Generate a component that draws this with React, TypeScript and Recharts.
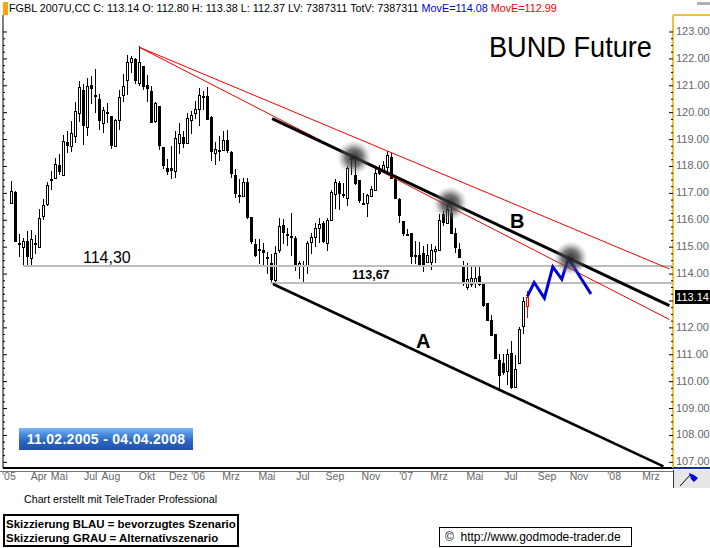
import { ComposedChart, Bar, Line, XAxis, YAxis, ReferenceDot } from 'recharts';

// weekly candles
const opens = [
  116.64, 117.05, 115.17, 115.02, 115.22, 114.58, 115.15, 115.02, 116.16, 116.60,
  117.54, 117.56, 118.07, 117.70, 118.91, 118.75, 119.12, 119.98, 120.85, 119.46,
  121.04, 120.67, 120.52, 119.62, 120.03, 119.88, 118.75, 119.74, 120.64, 121.23,
  121.90, 122.00, 121.10, 121.73, 121.04, 120.81, 119.68, 120.26, 118.74, 117.96,
  117.93, 117.83, 118.89, 119.11, 118.86, 119.72, 119.99, 120.12, 120.63, 120.63,
  119.85, 118.49, 118.60, 118.60, 119.00, 118.53, 117.70, 116.93, 116.90, 117.43,
  116.11, 115.10, 114.93, 114.91, 114.63, 114.40, 113.79, 114.90, 115.81, 115.49,
  115.43, 115.33, 114.33, 114.33, 114.33, 115.20, 115.36, 115.72, 115.89, 115.17,
  116.01, 116.99, 117.37, 116.97, 116.84, 118.28, 117.70, 117.49, 116.64, 116.65,
  116.90, 117.12, 117.86, 117.83, 117.98, 118.36, 117.54, 116.80, 115.96, 115.49,
  115.51, 114.72, 114.70, 114.78, 114.46, 114.46, 114.86, 114.90, 116.22, 115.89,
  116.26, 115.54, 114.95, 114.28, 113.51, 113.63, 113.67, 113.94, 113.62, 112.92,
  112.29, 111.78, 110.80, 110.71, 110.39, 111.06, 109.81, 110.71, 112.06, 112.80,
];
const closes = [
  117.10, 115.23, 115.10, 115.23, 114.68, 115.32, 115.17, 116.10, 116.58, 117.33,
  117.49, 118.10, 117.83, 118.95, 118.81, 119.25, 120.06, 120.95, 119.56, 121.00,
  120.90, 120.65, 119.72, 120.09, 120.01, 118.81, 119.74, 120.59, 121.00, 121.89,
  122.02, 121.22, 121.89, 121.00, 120.90, 119.64, 120.36, 118.79, 118.05, 117.83,
  117.88, 119.07, 119.21, 118.86, 119.81, 119.90, 120.15, 120.65, 120.59, 119.75,
  118.57, 118.65, 118.59, 119.00, 118.60, 117.77, 117.01, 116.92, 117.43, 116.12,
  115.23, 114.70, 114.92, 114.83, 114.60, 113.81, 114.80, 115.80, 115.57, 115.48,
  115.42, 114.33, 114.41, 114.32, 115.14, 115.36, 115.73, 115.85, 115.23, 116.01,
  117.05, 117.43, 117.02, 116.96, 117.93, 118.41, 117.37, 116.75, 116.65, 116.93,
  117.15, 117.74, 117.77, 118.04, 118.44, 117.58, 116.81, 116.21, 115.52, 115.48,
  114.68, 114.70, 114.37, 114.37, 114.72, 114.90, 114.93, 116.00, 115.94, 116.41,
  115.52, 114.99, 114.65, 113.69, 113.81, 113.85, 113.85, 113.63, 112.85, 112.31,
  111.72, 110.88, 110.24, 110.36, 111.04, 109.81, 110.46, 111.97, 113.01, 113.14,
];
const highs = [
  117.46, 117.07, 115.48, 115.33, 115.60, 115.64, 115.44, 116.43, 116.78, 117.42,
  117.84, 118.33, 118.48, 119.16, 119.33, 119.68, 120.38, 121.19, 121.05, 121.30,
  121.35, 121.63, 120.70, 120.21, 120.36, 119.88, 119.78, 120.83, 121.44, 122.15,
  122.11, 122.03, 122.48, 121.74, 121.41, 121.00, 120.38, 120.26, 118.74, 118.28,
  118.75, 119.31, 119.62, 119.31, 119.99, 120.07, 120.42, 120.91, 120.79, 120.95,
  119.86, 118.90, 119.12, 119.31, 119.35, 118.57, 117.91, 117.54, 117.56, 117.58,
  116.11, 115.32, 115.30, 115.15, 114.83, 114.74, 115.05, 116.10, 116.04, 115.73,
  116.26, 115.42, 114.50, 114.50, 115.23, 115.54, 115.91, 116.10, 115.98, 116.10,
  117.11, 117.52, 117.46, 117.40, 118.01, 118.48, 118.32, 117.50, 117.02, 116.96,
  117.27, 117.89, 118.07, 118.20, 118.57, 118.51, 117.58, 116.83, 115.98, 115.67,
  115.54, 115.23, 115.20, 115.05, 115.11, 115.11, 115.05, 116.22, 116.35, 116.53,
  116.41, 115.73, 115.17, 114.49, 114.43, 114.31, 114.25, 114.31, 113.62, 112.92,
  112.46, 111.78, 111.04, 111.04, 111.20, 111.53, 110.98, 112.03, 113.13, 113.38,
];
const lows = [
  116.60, 115.22, 114.63, 114.31, 114.33, 114.33, 114.73, 115.02, 116.01, 116.53,
  117.12, 117.52, 117.67, 117.70, 118.51, 118.53, 118.88, 119.65, 118.81, 119.15,
  120.33, 119.99, 119.37, 119.25, 119.62, 118.65, 118.72, 119.37, 120.40, 120.67,
  121.49, 121.07, 121.00, 120.83, 120.38, 119.62, 119.62, 118.63, 117.89, 117.70,
  117.52, 117.58, 118.46, 118.69, 118.83, 119.22, 119.78, 119.52, 120.11, 119.72,
  118.20, 118.07, 118.20, 118.57, 118.51, 117.58, 116.83, 116.63, 116.85, 116.04,
  115.11, 114.62, 114.37, 114.25, 114.00, 113.63, 113.72, 114.80, 115.11, 115.05,
  114.68, 114.12, 113.81, 113.67, 114.00, 114.74, 114.99, 115.17, 115.17, 114.86,
  115.98, 116.41, 116.37, 116.84, 116.53, 117.67, 117.33, 116.63, 116.59, 116.12,
  116.86, 117.09, 117.70, 117.77, 117.70, 117.52, 116.78, 115.91, 115.42, 115.42,
  114.37, 114.37, 114.31, 114.09, 114.43, 114.16, 114.43, 114.90, 115.79, 115.85,
  115.52, 114.80, 114.62, 113.57, 113.42, 113.51, 113.47, 113.57, 112.77, 112.27,
  111.69, 110.85, 109.70, 110.24, 109.87, 109.74, 109.77, 110.67, 111.78, 112.37,
];

// hand drawn lines [week, price]
const redUpper = [[31.9, 122.44], [164.5, 114.19]];
const redLower = [[31.9, 122.44], [164.5, 112.31]];
const lineB = [[65.2, 119.78], [164.5, 112.83]];
const lineA = [[65.4, 113.63], [163, 106.85]];
const level114 = [[2.9, 114.3], [165.4, 114.3]];
const level113 = [[64.7, 113.67], [165.4, 113.67]];
const scenario = [
  [129, 113.17], [130.7, 113.69], [133.25, 113.11], [135.35, 114.27],
  [137.6, 113.81], [139.25, 114.58], [144.9, 113.26],
];
const touches = [[85.7, 118.33], [109.7, 116.63], [139.85, 114.59]];

const priceTicks = [107, 108, 109, 110, 111, 112, 113, 114, 115, 116, 117, 118, 119, 120, 121, 122, 123];
const monthLabels = ["'05", 'Apr', 'Mai', 'Jul', 'Aug', 'Okt', 'Dez', "'06", 'Mrz', 'Mai', 'Jul', 'Sep', 'Nov', "'07", 'Mrz', 'Mai', 'Jul', 'Sep', 'Nov', "'08", 'Mrz'];
const monthWeeks = [-0.6, 6.9, 12, 19.85, 24.9, 33.9, 41.75, 46.7, 54.9, 63.9, 72.9, 80.9, 89.9, 98.7, 106.9, 115.9, 124.9, 133.9, 141.9, 150.7, 159.9];

const candles = opens.map((open, i) => ({
  x: i,
  open,
  close: closes[i],
  high: highs[i],
  low: lows[i],
  range: [lows[i], highs[i]],
}));

const toPoints = (pts: number[][]) => pts.map(([x, price]) => ({ x, price }));
const allTicks = priceTicks.flatMap((t) => (t === 123 ? [t] : [t, t + 0.25, t + 0.5, t + 0.75]));

const SANS = '"Liberation Sans", Arial, sans-serif';
const PLOT_LEFT = 3;
const PLOT_RIGHT = 673;

function Candle(props: any) {
  const { x, y, width, height, payload } = props;
  const { open, close, high, low } = payload;
  const last = payload.x === opens.length - 1;
  const ink = last ? '#f00000' : '#000';
  const cx = Math.round(x + width / 2 - 0.5) + 0.5;
  const toY = (p: number) => y + ((high - p) / (high - low)) * height;
  const top = Math.round(toY(Math.max(open, close)));
  const bottom = Math.max(Math.round(toY(Math.min(open, close))), top + 1);
  const rising = close >= open;
  return (
    <g shapeRendering="crispEdges">
      <line x1={cx} x2={cx} y1={y} y2={y + height} stroke={ink} strokeWidth={1} />
      {rising ? (
        <rect x={cx - 1} y={top + 0.5} width={2} height={bottom - top} fill="#fff" stroke={ink} strokeWidth={1} />
      ) : (
        <rect x={cx - 1.5} y={top} width={3} height={bottom - top + 1} fill={ink} />
      )}
    </g>
  );
}

function RightTick(props: any) {
  const { y, payload } = props;
  const major = Number.isInteger(payload.value);
  return (
    <g>
      <line x1={PLOT_RIGHT - (major ? 4 : 2)} x2={PLOT_RIGHT} y1={y} y2={y} stroke="#000" strokeWidth={1} />
      {major && (
        <text x={PLOT_RIGHT + 3} y={y + 3} fontFamily={SANS} fontSize={11} fill="#666">
          {payload.value.toFixed(2)}
        </text>
      )}
    </g>
  );
}

function LeftTick(props: any) {
  const { y, payload } = props;
  const major = Number.isInteger(payload.value);
  return <line x1={PLOT_LEFT} x2={PLOT_LEFT + (major ? 4 : 2)} y1={y} y2={y} stroke="#000" strokeWidth={1} />;
}

function MonthTick(props: any) {
  const { x, payload } = props;
  return (
    <text x={x} y={480} textAnchor="middle" fontFamily={SANS} fontSize={10.5} fill="#666">
      {monthLabels[monthWeeks.indexOf(payload.value)]}
    </text>
  );
}

function Label(props: any) {
  const { x, y, style, children } = props;
  return (
    <div style={{ position: 'absolute', left: x, top: y, whiteSpace: 'nowrap', fontFamily: SANS, lineHeight: 1, ...style }}>
      {children}
    </div>
  );
}

const drawnLine = (key: string, pts: number[][], stroke: string, strokeWidth: number) => (
  <Line
    key={key}
    data={toPoints(pts)}
    dataKey="price"
    yAxisId="price"
    stroke={stroke}
    strokeWidth={strokeWidth}
    dot={false}
    activeDot={false}
    legendType="none"
    isAnimationActive={false}
  />
);

export default function App() {
  return (
    <div style={{ position: 'absolute', left: 0, top: 0, width: 710, height: 548, background: '#fff', overflow: 'hidden' }}>
      <ComposedChart width={710} height={548} data={candles} margin={{ top: 15, right: 0, bottom: 0, left: 0 }}>
        <defs>
          <radialGradient id="touchGlow">
            <stop offset="0%" stopColor="#222" stopOpacity={0.95} />
            <stop offset="50%" stopColor="#444" stopOpacity={0.72} />
            <stop offset="100%" stopColor="#999" stopOpacity={0} />
          </radialGradient>
        </defs>
        <XAxis
          dataKey="x"
          type="number"
          domain={[-2.075, 165.4]}
          allowDataOverflow
          ticks={monthWeeks}
          interval={0}
          height={80}
          tick={<MonthTick />}
          tickLine={false}
          axisLine={{ stroke: '#000', strokeWidth: 2 }}
        />
        <YAxis
          yAxisId="left"
          orientation="left"
          width={3}
          domain={[106.79, 123.632]}
          allowDataOverflow
          ticks={allTicks}
          interval={0}
          tick={<LeftTick />}
          tickLine={false}
          axisLine={{ stroke: '#000', strokeWidth: 1 }}
        />
        <YAxis
          yAxisId="price"
          orientation="right"
          width={37}
          domain={[106.79, 123.632]}
          allowDataOverflow
          ticks={allTicks}
          interval={0}
          tick={<RightTick />}
          tickLine={false}
          axisLine={{ stroke: '#f2c040', strokeWidth: 2 }}
        />
        <Bar dataKey="range" yAxisId="price" barSize={3} shape={<Candle />} isAnimationActive={false} />
        {drawnLine('level114', level114, '#bdbdbd', 2)}
        {drawnLine('level113', level113, '#bdbdbd', 2)}
        {drawnLine('redUpper', redUpper, '#f00000', 1)}
        {drawnLine('redLower', redLower, '#f00000', 1)}
        {touches.map(([x, y]) => (
          <ReferenceDot key={x} x={x} y={y} yAxisId="price" r={17} fill="url(#touchGlow)" stroke="none" />
        ))}
        {drawnLine('lineB', lineB, '#000', 3)}
        {drawnLine('lineA', lineA, '#000', 2.6)}
        {drawnLine('scenario', scenario, '#0000dd', 3)}
      </ComposedChart>

      <div style={{ position: 'absolute', left: 3, top: 2, width: 5, height: 13, background: '#ffa010' }} />
      <Label x={9} y={3} style={{ fontSize: 10.8, color: '#000' }}>
        FGBL 2007U,CC C: 113.14 O: 112.80 H: 113.38 L: 112.37 LV: 7387311 TotV: 7387311{' '}
        <span style={{ color: '#0000e0' }}>MovE=114.08</span> <span style={{ color: '#f00000' }}>MovE=112.99</span>
      </Label>
      <div style={{ position: 'absolute', left: 697, top: 2, width: 13, height: 3, background: '#b0b0b0' }} />
      <div style={{ position: 'absolute', left: 673, top: 14, width: 37, height: 2, background: '#f2c040' }} />
      <div style={{ position: 'absolute', left: 673, top: 467, width: 37, height: 2, background: '#1030a0' }} />
      <div style={{ position: 'absolute', left: 0, top: 471, width: 673, height: 1, background: '#777' }} />

      <Label x={489} y={32} style={{ fontSize: 30, color: '#000', transform: 'scaleX(0.905)', transformOrigin: 'left top' }}>BUND Future</Label>
      <Label x={83} y={250} style={{ fontSize: 16, color: '#000' }}>114,30</Label>
      <Label x={352} y={269} style={{ fontSize: 12.5, fontWeight: 700, color: '#000' }}>113,67</Label>
      <Label x={416} y={331} style={{ fontSize: 20, fontWeight: 700, color: '#000' }}>A</Label>
      <Label x={510} y={211} style={{ fontSize: 20, fontWeight: 700, color: '#000' }}>B</Label>

      <div style={{ position: 'absolute', left: 675, top: 290, width: 35, height: 14, background: '#000', color: '#fff', fontFamily: SANS, fontSize: 11, lineHeight: '14px', textAlign: 'center' }}>
        113.14
      </div>

      <div style={{ position: 'absolute', left: 673, top: 470, width: 37, height: 18, background: '#e6e6e6', borderLeft: '1px solid #333', boxSizing: 'border-box' }}>
        <svg width={36} height={18}>
          <line x1={6} y1={16} x2={17} y2={4} stroke="#000" strokeWidth={1} />
          <polygon points="15,3 20,5 24,8 20,12 17,9" fill="#0000dd" />
        </svg>
      </div>

      <div style={{ position: 'absolute', left: 19, top: 428, width: 174, height: 22, background: 'linear-gradient(#7db8f2 0%, #4a8ae0 30%, #2a66c4 60%, #2450a8 100%)', color: '#fff', fontFamily: SANS, fontSize: 14, fontWeight: 700, lineHeight: '23px', textAlign: 'center', letterSpacing: 0.3 }}>
        11.02.2005 - 04.04.2008
      </div>

      <Label x={24} y={494} style={{ fontSize: 10.7, color: '#000' }}>Chart erstellt mit TeleTrader Professional</Label>

      <div style={{ position: 'absolute', left: 3, top: 514, width: 236, height: 33, border: '2px solid #000', boxSizing: 'border-box', fontFamily: SANS, fontSize: 11.45, fontWeight: 700, lineHeight: '14px', padding: '1px 0 0 1px', whiteSpace: 'nowrap', color: '#000' }}>
        <div>Skizzierung BLAU = bevorzugtes Szenario</div>
        <div>Skizzierung GRAU = Alternativszenario</div>
      </div>

      <div style={{ position: 'absolute', left: 439, top: 527, width: 193, height: 20, border: '1px solid #000', boxSizing: 'border-box', fontFamily: SANS, fontSize: 12, lineHeight: '18px', paddingLeft: 5, whiteSpace: 'nowrap', color: '#000' }}>
        ©&nbsp; http://www.godmode-trader.de
      </div>
    </div>
  );
}
